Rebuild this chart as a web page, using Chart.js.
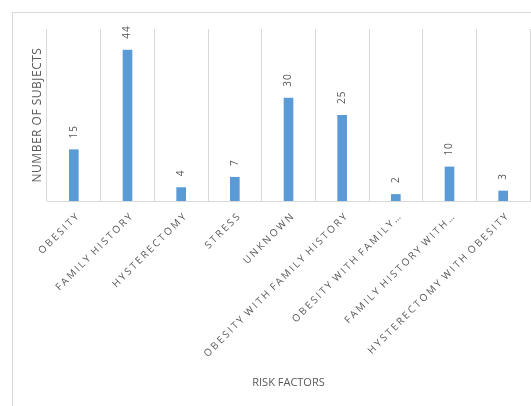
<!DOCTYPE html>
<html>
<head>
<meta charset="utf-8">
<script src="https://cdn.jsdelivr.net/npm/chart.js@4"></script>
<style>
  html, body { margin: 0; padding: 0; background: #fff; }
  #wrap { width: 531px; height: 406px; }
</style>
</head>
<body>
<div id="wrap"><canvas id="chart" width="531" height="406"></canvas></div>
<script>
const RISK_FACTORS = [
  "OBESITY",
  "FAMILY HISTORY",
  "HYSTERECTOMY",
  "STRESS",
  "UNKNOWN",
  "OBESITY WITH FAMILY HISTORY",
  "OBESITY WITH FAMILY…",
  "FAMILY HISTORY WITH…",
  "HYSTERECTOMY WITH OBESITY",
];
const SUBJECT_COUNTS = [15, 44, 4, 7, 30, 25, 2, 10, 3];
const Y_TITLE = "NUMBER OF SUBJECTS";
const X_TITLE = "RISK FACTORS";

const TEXT_GREY = "#595959";
const LINE_GREY = "#d9d9d9";
const BAR_BLUE = "#5B9BD5";

// frame, rotated category labels, value labels and axis titles
const decorations = {
  id: "decorations",
  afterDraw(chart) {
    const ctx = chart.ctx;
    const area = chart.chartArea;
    const xScale = chart.scales.x;

    ctx.save();
    ctx.strokeStyle = LINE_GREY;
    ctx.lineWidth = 1;
    ctx.strokeRect(12.5, 12.5, 540, 420);

    // value labels above the bars, reading upwards
    ctx.fillStyle = TEXT_GREY;
    ctx.font = "10px 'Open Sans'";
    ctx.letterSpacing = "1px";
    ctx.textAlign = "left";
    ctx.textBaseline = "middle";
    chart.getDatasetMeta(0).data.forEach((bar, i) => {
      ctx.save();
      ctx.translate(bar.x, bar.y - 11);
      ctx.rotate(-Math.PI / 2);
      ctx.fillText(String(SUBJECT_COUNTS[i]), 0, 0);
      ctx.restore();
    });

    // category labels at -45 degrees
    ctx.font = "10px 'Open Sans'";
    ctx.letterSpacing = "2.2px";
    ctx.wordSpacing = "-2px";
    ctx.textAlign = "right";
    RISK_FACTORS.forEach((label, i) => {
      const x = xScale.getPixelForValue(i);
      ctx.save();
      ctx.translate(x + 5, area.bottom + 13);
      ctx.rotate(-Math.PI / 4);
      ctx.fillText(label, 0, 0);
      ctx.restore();
    });

    // axis titles
    ctx.letterSpacing = "0px";
    ctx.wordSpacing = "0px";
    ctx.font = "11px 'Open Sans'";
    ctx.textAlign = "center";
    ctx.fillText(X_TITLE, (area.left + area.right) / 2, 383);
    ctx.font = "12px 'Open Sans'";
    ctx.letterSpacing = "0.5px";
    ctx.save();
    ctx.translate(38, (area.top + area.bottom) / 2);
    ctx.rotate(-Math.PI / 2);
    ctx.fillText(Y_TITLE, 0, 0);
    ctx.restore();
    ctx.restore();
  },
};

new Chart(document.getElementById("chart"), {
  type: "bar",
  data: {
    labels: RISK_FACTORS,
    datasets: [{
      data: SUBJECT_COUNTS,
      backgroundColor: BAR_BLUE,
      borderWidth: 0,
      categoryPercentage: 1,
      barPercentage: 0.18,
    }],
  },
  options: {
    responsive: false,
    animation: false,
    layout: { padding: { left: 47, top: 29, right: 1, bottom: 0 } },
    plugins: { legend: { display: false }, tooltip: { enabled: false } },
    scales: {
      x: {
        grid: { color: LINE_GREY, offset: true, drawTicks: false },
        border: { color: LINE_GREY },
        ticks: { display: false },
        afterFit(scale) { scale.height = 205; },
      },
      y: {
        display: false,
        min: 0,
        max: 50,
      },
    },
  },
  plugins: [decorations],
});
</script>
</body>
</html>
